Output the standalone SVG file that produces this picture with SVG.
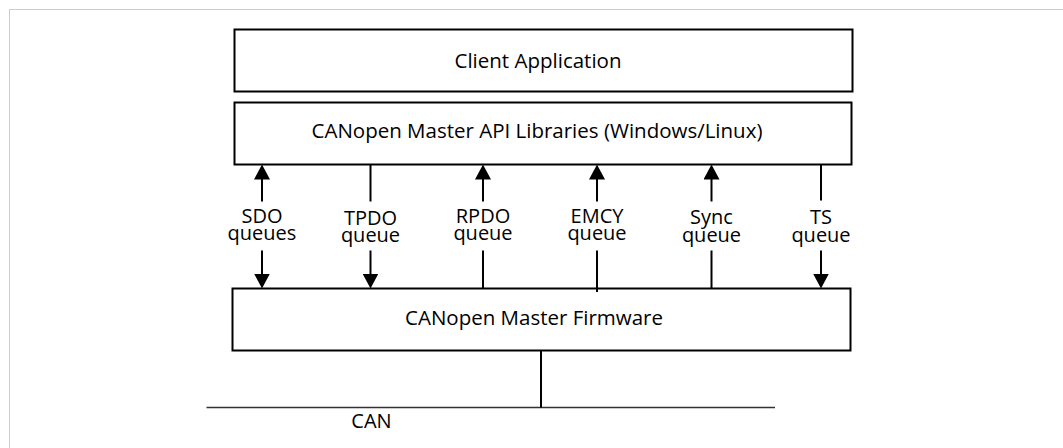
<svg xmlns="http://www.w3.org/2000/svg" width="1063" height="448" viewBox="0 0 1063 448">
  <style>
    .box { fill: #ffffff; stroke: #000000; stroke-width: 2; }
    .txt { font-family: "Open Sans", "Noto Sans", "Liberation Sans", sans-serif; font-size: 20.5px; fill: #000000; text-anchor: middle; }
    .lbl { font-family: "Open Sans", "Noto Sans", "Liberation Sans", sans-serif; font-size: 20px; fill: #000000; text-anchor: middle; }
    .conn { stroke: #000000; stroke-width: 2; fill: none; }
    .arr { marker-end: url(#head); }
  </style>
  <defs>
    <marker id="head" viewBox="0 0 15 16" refX="7" refY="8" markerWidth="15" markerHeight="16" markerUnits="userSpaceOnUse" orient="auto">
      <path d="M0,0 L15,8 L0,16 z" fill="#000000"/>
    </marker>
  </defs>
  <rect x="9.5" y="9.5" width="1100" height="500" fill="#ffffff" stroke="#cccccc" stroke-width="1"/>

  <g id="client-application">
    <rect class="box" x="234.5" y="29.5" width="618" height="62"/>
    <text class="txt" x="538" y="68">Client Application</text>
  </g>
  <g id="api-libraries">
    <rect class="box" x="234.5" y="102.5" width="617" height="62"/>
    <text class="txt" x="537" y="138">CANopen Master API Libraries (Windows/Linux)</text>
  </g>
  <g id="firmware">
    <rect class="box" x="232.5" y="288.5" width="618" height="62"/>
    <text class="txt" x="534" y="325">CANopen Master Firmware</text>
  </g>
  <g id="can-bus">
    <line x1="206.5" y1="407.5" x2="775" y2="407.5" stroke="#333333" stroke-width="1.6"/>
    <text class="lbl" x="371.5" y="428">CAN</text>
  </g>

  <g id="connectors">
    <line class="conn arr" x1="262" y1="201.5" x2="262" y2="172.5"/>
    <line class="conn arr" x1="262" y1="250.5" x2="262" y2="280.5"/>
    <line class="conn" x1="370.5" y1="164.5" x2="370.5" y2="201.5"/>
    <line class="conn arr" x1="370.5" y1="250.5" x2="370.5" y2="280.5"/>
    <line class="conn arr" x1="483" y1="201.5" x2="483" y2="172.5"/>
    <line class="conn" x1="483" y1="250.5" x2="483" y2="288.5"/>
    <line class="conn arr" x1="597" y1="201.5" x2="597" y2="172.5"/>
    <line class="conn" x1="597" y1="250.5" x2="597" y2="292"/>
    <line class="conn arr" x1="711.5" y1="201.5" x2="711.5" y2="172.5"/>
    <line class="conn" x1="711.5" y1="250.5" x2="711.5" y2="288.5"/>
    <line class="conn" x1="821" y1="164.5" x2="821" y2="200.5"/>
    <line class="conn arr" x1="821" y1="250.5" x2="821" y2="280.5"/>
    <line class="conn" x1="541" y1="350.5" x2="541" y2="407.5"/>
  </g>

  <g id="labels">
    <text class="lbl" x="262" y="223">SDO<tspan x="262" dy="17">queues</tspan></text>
    <text class="lbl" x="370.5" y="224.5">TPDO<tspan x="370.5" dy="17">queue</tspan></text>
    <text class="lbl" x="483" y="223">RPDO<tspan x="483" dy="17">queue</tspan></text>
    <text class="lbl" x="597" y="223">EMCY<tspan x="597" dy="17">queue</tspan></text>
    <text class="lbl" x="711.5" y="224">Sync<tspan x="711.5" dy="17.5">queue</tspan></text>
    <text class="lbl" x="821" y="224">TS<tspan x="821" dy="17.5">queue</tspan></text>
  </g>
</svg>
